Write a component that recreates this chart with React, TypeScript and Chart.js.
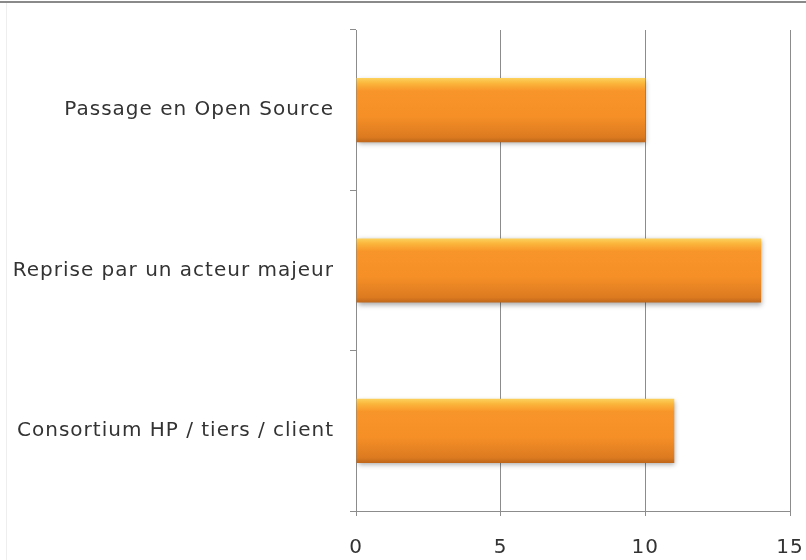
import React, { useEffect, useRef } from "react";
import { Chart, registerables } from "chart.js";

Chart.register(...registerables);

const categories = [
  "Passage en Open Source",
  "Reprise par un acteur majeur",
  "Consortium HP / tiers / client",
];
const values = [10, 14, 11];
const xTicks = [0, 5, 10, 15];

const GRID = "#8c8c8c";
const FONT = "'DejaVu Sans', sans-serif";

const spacingPlugin = {
  id: "letterSpacing",
  beforeDraw(chart: any) {
    (chart.ctx as any).letterSpacing = "1px";
  },
};

const shadowPlugin = {
  id: "barShadow",
  beforeDatasetDraw(chart: any) {
    const ctx = chart.ctx;
    ctx.save();
    ctx.shadowColor = "rgba(0,0,0,0.35)";
    ctx.shadowBlur = 5;
    ctx.shadowOffsetX = 1;
    ctx.shadowOffsetY = 2;
  },
  afterDatasetDraw(chart: any) {
    chart.ctx.restore();
  },
};

export default function App() {
  const ref = useRef<HTMLCanvasElement | null>(null);

  useEffect(() => {
    if (!ref.current) return;
    const chart = new Chart(ref.current, {
      type: "bar",
      data: {
        labels: categories,
        datasets: [
          {
            data: values,
            barPercentage: 0.4,
            categoryPercentage: 1,
            borderWidth: 0,
            backgroundColor: (c: any) => {
              const ch = c.chart;
              const ys = ch.scales && ch.scales.y;
              if (!ch.chartArea || !ys || c.type !== "data") return "#F7962B";
              const y = ys.getPixelForValue(c.dataIndex);
              const band = Math.abs(ys.getPixelForValue(1) - ys.getPixelForValue(0));
              const t = band * 0.4;
              const g = ch.ctx.createLinearGradient(0, y - t / 2, 0, y + t / 2);
              g.addColorStop(0, "#FCD25C");
              g.addColorStop(0.08, "#FBB63C");
              g.addColorStop(0.2, "#F8952A");
              g.addColorStop(0.6, "#F58F26");
              g.addColorStop(0.92, "#DC7A20");
              g.addColorStop(1, "#BE661A");
              return g;
            },
          },
        ],
      },
      options: {
        indexAxis: "y",
        animation: false,
        responsive: false,
        maintainAspectRatio: false,
        layout: { padding: { top: 30, right: 0, left: 0, bottom: 0 } },
        plugins: {
          legend: { display: false },
          tooltip: { enabled: false },
        },
        scales: {
          x: {
            min: 0,
            max: 15,
            afterBuildTicks: (s: any) => {
              s.ticks = xTicks.map((v) => ({ value: v }));
            },
            afterFit: (s: any) => {
              s.height = 49;
              s.paddingLeft = 0;
              s.paddingRight = 16;
            },
            grid: {
              color: GRID,
              lineWidth: 1,
              tickLength: 5,
              drawTicks: true,
            },
            border: { display: true, color: GRID, width: 1 },
            ticks: {
              color: "#333",
              font: { family: FONT, size: 20 },
              padding: 20,
              maxRotation: 0,
            },
          },
          y: {
            afterFit: (s: any) => {
              s.width = 356;
            },
            grid: {
              offset: true,
              drawOnChartArea: false,
              color: GRID,
              tickLength: 6,
            },
            border: { display: true, color: GRID, width: 1 },
            ticks: {
              color: "#333",
              font: { family: FONT, size: 20 },
              padding: 16,
            },
          },
        },
      },
      plugins: [spacingPlugin, shadowPlugin],
    } as any);
    return () => chart.destroy();
  }, []);

  return (
    <div
      style={{
        position: "fixed",
        left: 0,
        top: 0,
        width: 806,
        height: 560,
        background: "#fff",
        overflow: "hidden",
      }}
    >
      <div
        style={{
          position: "absolute",
          left: 0,
          top: 1,
          width: 806,
          height: 2,
          background: "#8a8a8a",
        }}
      />
      <div
        style={{
          position: "absolute",
          left: 6,
          top: 3,
          width: 1,
          height: 557,
          background: "#eeeeee",
        }}
      />
      <canvas
        ref={ref}
        width={806}
        height={560}
        style={{ position: "absolute", left: 0, top: 0, width: 806, height: 560 }}
      />
    </div>
  );
}
